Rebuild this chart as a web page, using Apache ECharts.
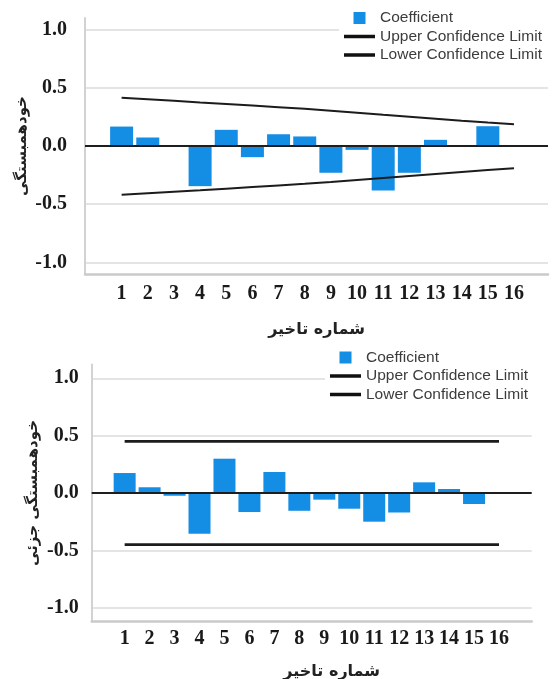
<!DOCTYPE html>
<html>
<head>
<meta charset="utf-8">
<script src="https://cdn.jsdelivr.net/npm/echarts@6/dist/echarts.min.js"></script>
<style>
  html, body { margin: 0; padding: 0; background: #fff; }
  #acf  { position: absolute; left: 0; top: 0;     width: 553px; height: 340px; }
  #pacf { position: absolute; left: 0; top: 340px; width: 553px; height: 339px; }
</style>
</head>
<body>
<div id="acf"></div>
<div id="pacf"></div>
<script>
// Lag numbers shown on both x axes
const lags = [1, 2, 3, 4, 5, 6, 7, 8, 9, 10, 11, 12, 13, 14, 15, 16];

// Autocorrelation (ACF) per lag, with its confidence band
const acfCoefficient = [0.167, 0.073, 0.0, -0.345, 0.139, -0.096, 0.101, 0.082, -0.230, -0.033, -0.382, -0.230, 0.053, 0.0, 0.170, 0.0];
const acfUpper = [0.414, 0.401, 0.388, 0.374, 0.361, 0.348, 0.334, 0.320, 0.303, 0.286, 0.268, 0.251, 0.234, 0.217, 0.201, 0.186];
const acfLower = [-0.420, -0.407, -0.394, -0.381, -0.367, -0.353, -0.339, -0.325, -0.309, -0.292, -0.275, -0.258, -0.241, -0.224, -0.207, -0.191];

// Partial autocorrelation (PACF) per lag, with its confidence band
const pacfCoefficient = [0.174, 0.050, -0.024, -0.355, 0.299, -0.166, 0.183, -0.155, -0.058, -0.137, -0.250, -0.170, 0.093, 0.035, -0.096, 0.0];
const pacfUpper = [0.45, 0.45, 0.45, 0.45, 0.45, 0.45, 0.45, 0.45, 0.45, 0.45, 0.45, 0.45, 0.45, 0.45, 0.45, 0.45];
const pacfLower = [-0.45, -0.45, -0.45, -0.45, -0.45, -0.45, -0.45, -0.45, -0.45, -0.45, -0.45, -0.45, -0.45, -0.45, -0.45, -0.45];

// Value-axis tick labels
const yTicks = [-1.0, -0.5, 0.0, 0.5, 1.0];

// Series / legend names and axis titles
const seriesNames = ['Coefficient', 'Upper Confidence Limit', 'Lower Confidence Limit'];
const acfTitle = 'خودهمبستگی';
const pacfTitle = 'خودهمبستگی جزئی';
const lagTitle = 'شماره تاخیر';

const pairs = (vals) => lags.map((l, i) => [l, vals[i]]);

// Legend glyphs: a small square for the bars, a thick bar for the limit lines
const squareIcon = 'path://M0,0L10,0L10,10L0,10Z';
const lineIcon = 'path://M0,0L31,0L31,3.5L0,3.5Z';

function buildOption(cfg) {
  return {
    animation: false,
    backgroundColor: '#fff',
    textStyle: { fontFamily: 'Liberation Serif' },
    grid: Object.assign({ outerBoundsMode: 'none', containLabel: false }, cfg.grid),
    legend: {
      orient: 'vertical',
      left: cfg.legendPos.left,
      top: cfg.legendPos.top,
      padding: [5, 8, 5, 5],
      backgroundColor: '#fff',
      itemWidth: 31,
      itemHeight: 12,
      itemGap: 2.5,
      selectedMode: false,
      textStyle: { fontFamily: 'Liberation Sans', fontSize: 15.5, lineHeight: 15, color: '#3c3c3c' },
      data: [
        { name: seriesNames[0], icon: squareIcon },
        { name: seriesNames[1], icon: lineIcon },
        { name: seriesNames[2], icon: lineIcon }
      ]
    },
    xAxis: {
      type: 'value',
      min: cfg.xMin,
      max: cfg.xMax,
      name: lagTitle,
      nameLocation: 'middle',
      nameGap: cfg.xNameGap,
      nameTextStyle: {
        fontFamily: 'DejaVu Sans', fontWeight: 'bold', fontSize: 16, color: '#222',
        padding: cfg.xNamePadding
      },
      axisLine: { show: true, onZero: false, lineStyle: { color: '#cacaca', width: 2.5 } },
      axisTick: { show: false },
      splitLine: { show: false },
      axisLabel: {
        customValues: lags,
        margin: cfg.xLabelMargin,
        fontFamily: 'Liberation Serif', fontWeight: 'bold', fontSize: 20, color: '#1a1a1a',
        formatter: (v) => String(v)
      }
    },
    yAxis: {
      type: 'value',
      min: cfg.yMin,
      max: cfg.yMax,
      name: cfg.yName,
      nameLocation: 'middle',
      nameGap: cfg.yNameGap,
      nameMoveOverlap: false,
      nameTextStyle: {
        fontFamily: 'DejaVu Sans', fontWeight: 'bold', fontSize: 15, color: '#222',
        padding: cfg.yNamePadding
      },
      axisLine: { show: true, onZero: false, lineStyle: { color: '#d2d2d2', width: 2 } },
      axisTick: { show: false, customValues: yTicks },
      splitLine: { show: true, lineStyle: { color: '#e4e4e4', width: 2 } },
      axisLabel: {
        customValues: yTicks,
        margin: cfg.yLabelMargin,
        fontFamily: 'Liberation Serif', fontWeight: 'bold', fontSize: 20, color: '#1a1a1a',
        formatter: (v) => v.toFixed(1)
      }
    },
    series: [
      {
        name: seriesNames[0],
        type: 'bar',
        barWidth: cfg.barWidth,
        itemStyle: { color: '#148de4' },
        data: pairs(cfg.coef),
        markLine: {
          silent: true,
          symbol: 'none',
          label: { show: false },
          lineStyle: { color: '#1e1e1e', width: 2, type: 'solid' },
          data: [{ yAxis: 0 }]
        }
      },
      {
        name: seriesNames[1],
        type: 'line',
        symbol: 'none',
        color: '#111',
        lineStyle: { color: '#1c1c1c', width: cfg.clWidth },
        data: pairs(cfg.upper)
      },
      {
        name: seriesNames[2],
        type: 'line',
        symbol: 'none',
        color: '#111',
        lineStyle: { color: '#1c1c1c', width: cfg.clWidth },
        data: pairs(cfg.lower)
      }
    ]
  };
}

const acfChart = echarts.init(document.getElementById('acf'), null, { renderer: 'canvas' });
acfChart.setOption(buildOption({
  grid: { left: 85, right: 5, top: 18, height: 256 },
  legendPos: { left: 339, top: 5 },
  xMin: -0.4, xMax: 17.3,
  yMin: -1.1, yMax: 1.1,
  xNameGap: 48, xNamePadding: [0, 0, 0, 0],
  xLabelMargin: 10,
  yName: acfTitle, yNameGap: 55, yNamePadding: [0, 0, 0, 0],
  yLabelMargin: 18,
  barWidth: 23,
  clWidth: 2,
  coef: acfCoefficient, upper: acfUpper, lower: acfLower
}));

const pacfChart = echarts.init(document.getElementById('pacf'), null, { renderer: 'canvas' });
pacfChart.setOption(buildOption({
  grid: { left: 91.7, right: 21.3, top: 24.5, height: 257 },
  legendPos: { left: 325, top: 4.5 },
  xMin: -0.32, xMax: 17.31,
  yMin: -1.12, yMax: 1.12,
  xNameGap: 42, xNamePadding: [0, 0, 0, 40],
  xLabelMargin: 7,
  yName: pacfTitle, yNameGap: 51, yNamePadding: [0, 0, 0, 0],
  yLabelMargin: 13,
  barWidth: 22,
  clWidth: 2.8,
  coef: pacfCoefficient, upper: pacfUpper, lower: pacfLower
}));
</script>
</body>
</html>
